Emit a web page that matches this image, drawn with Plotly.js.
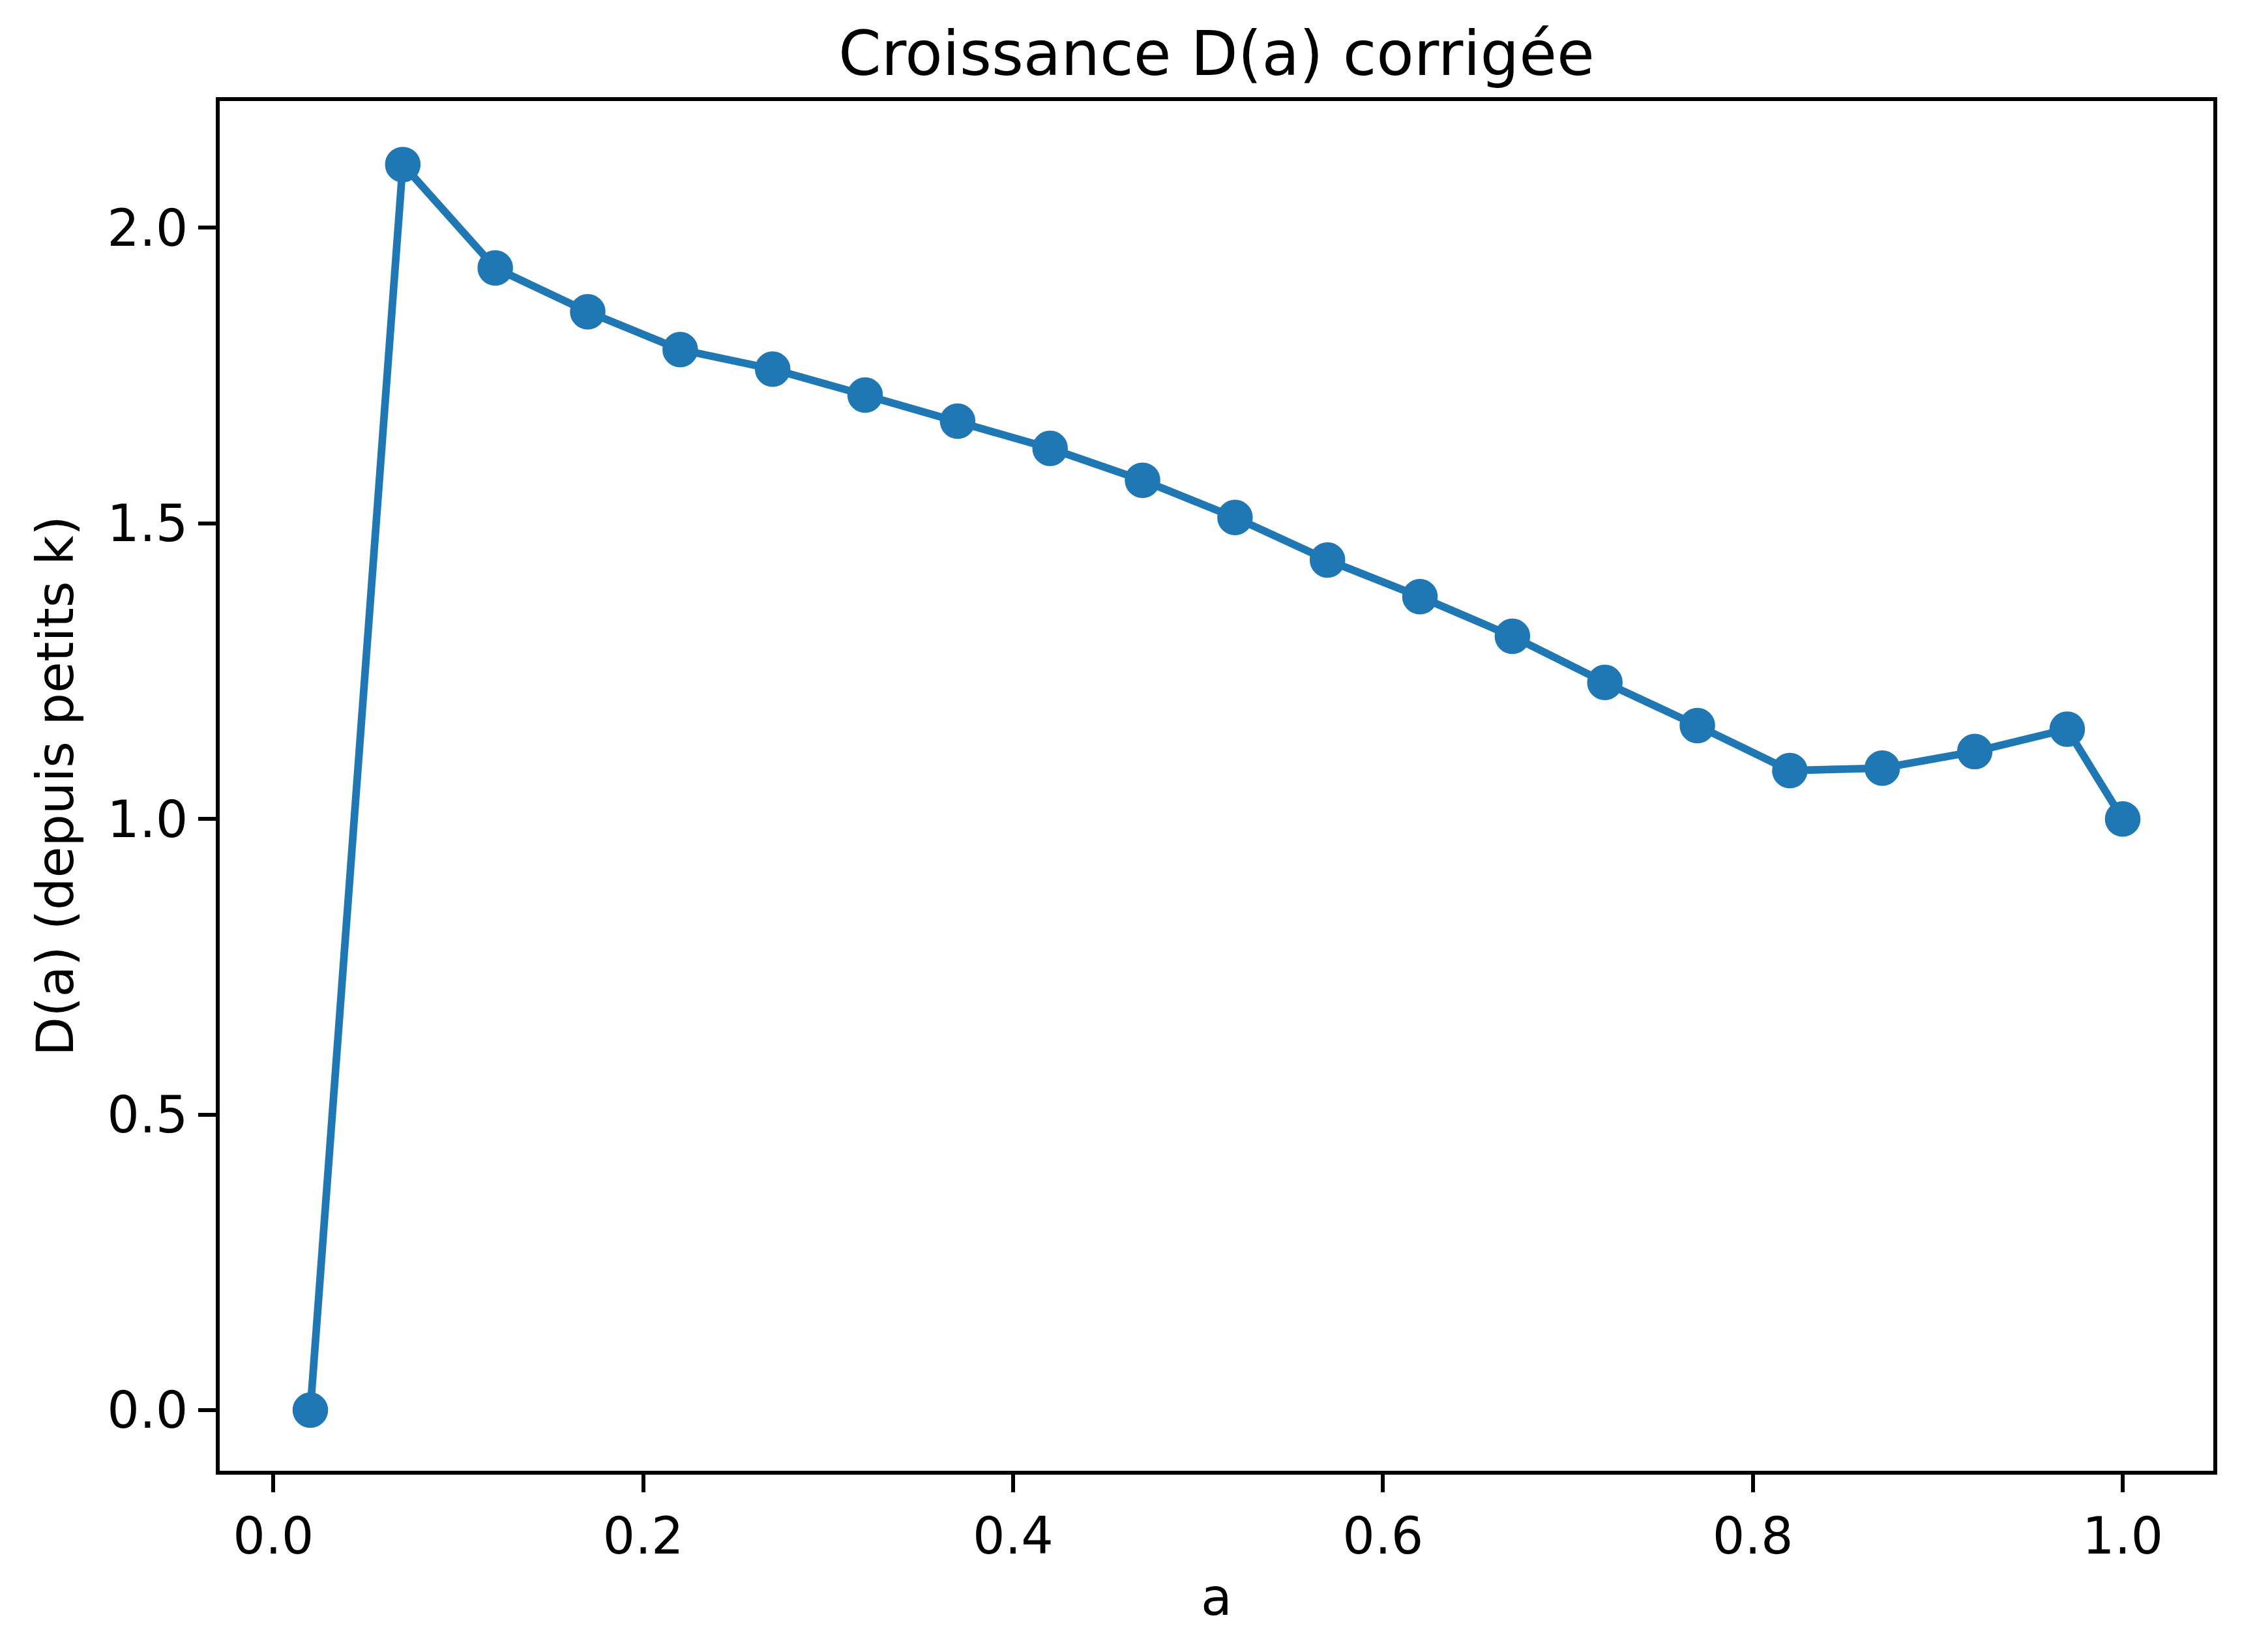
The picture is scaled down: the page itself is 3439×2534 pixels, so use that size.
<!DOCTYPE html>
<html>
<head>
<meta charset="utf-8">
<script src="https://cdn.plot.ly/plotly-3.0.1.min.js"></script>
<style>html,body{margin:0;padding:0;background:#ffffff;}</style>
</head>
<body>
<div id="chart" style="width:3439px;height:2534px;"></div>
<script>
// ---- data ----
const aValues = [0.02, 0.07, 0.12, 0.17, 0.22, 0.27, 0.32, 0.37, 0.42, 0.47, 0.52,
                 0.57, 0.62, 0.67, 0.72, 0.77, 0.82, 0.87, 0.92, 0.97, 1.00];
const dValues = [0.000, 2.107, 1.932, 1.858, 1.794, 1.761, 1.717, 1.673, 1.627, 1.573, 1.510,
                 1.438, 1.376, 1.309, 1.231, 1.158, 1.082, 1.086, 1.114, 1.152, 1.000];
const xTickVals = [0.0, 0.2, 0.4, 0.6, 0.8, 1.0];
const xTickText = ['0.0', '0.2', '0.4', '0.6', '0.8', '1.0'];
const yTickVals = [0.0, 0.5, 1.0, 1.5, 2.0];
const yTickText = ['0.0', '0.5', '1.0', '1.5', '2.0'];
const chartTitle = 'Croissance D(a) corrigée';
const xLabel = 'a';
const yLabel = 'D(a) (depuis petits k)';

// ---- styles ----
const FONT = 'DejaVu Sans, Liberation Sans, sans-serif';
const BLUE = '#1f77b4';

const trace = {
  x: aValues,
  y: dValues,
  type: 'scatter',
  mode: 'lines+markers',
  line: {color: BLUE, width: 11.7},
  marker: {color: BLUE, size: 47, line: {color: BLUE, width: 7.5}},
  hoverinfo: 'x+y'
};

const axisCommon = {
  showgrid: false,
  zeroline: false,
  showline: true,
  linecolor: '#000000',
  linewidth: 6,
  mirror: true,
  ticks: 'outside',
  ticklen: 27,
  tickwidth: 6,
  tickcolor: '#000000',
  tickfont: {family: FONT, size: 78, color: '#000000'},
  automargin: false
};

const layout = {
  width: 3439,
  height: 2534,
  paper_bgcolor: '#ffffff',
  plot_bgcolor: '#ffffff',
  showlegend: false,
  margin: {l: 337, r: 44, t: 155, b: 278, pad: 0},
  font: {family: FONT, color: '#000000'},
  title: {
    text: chartTitle,
    font: {family: FONT, size: 94, color: '#000000'},
    x: 0.5, xref: 'paper', xanchor: 'center',
    y: 0.9677, yref: 'container', yanchor: 'middle'
  },
  xaxis: Object.assign({}, axisCommon, {
    range: [-0.029, 1.049],
    tickmode: 'array',
    tickvals: xTickVals,
    ticktext: xTickText,
    title: {text: xLabel, font: {family: FONT, size: 78, color: '#000000'}, standoff: 25}
  }),
  yaxis: Object.assign({}, axisCommon, {
    range: [-0.1025, 2.2144],
    tickmode: 'array',
    tickvals: yTickVals,
    ticktext: yTickText,
    title: {text: yLabel, font: {family: FONT, size: 78, color: '#000000'}, standoff: 28}
  })
};

Plotly.newPlot('chart', [trace], layout, {displayModeBar: false, staticPlot: true});
</script>
</body>
</html>
